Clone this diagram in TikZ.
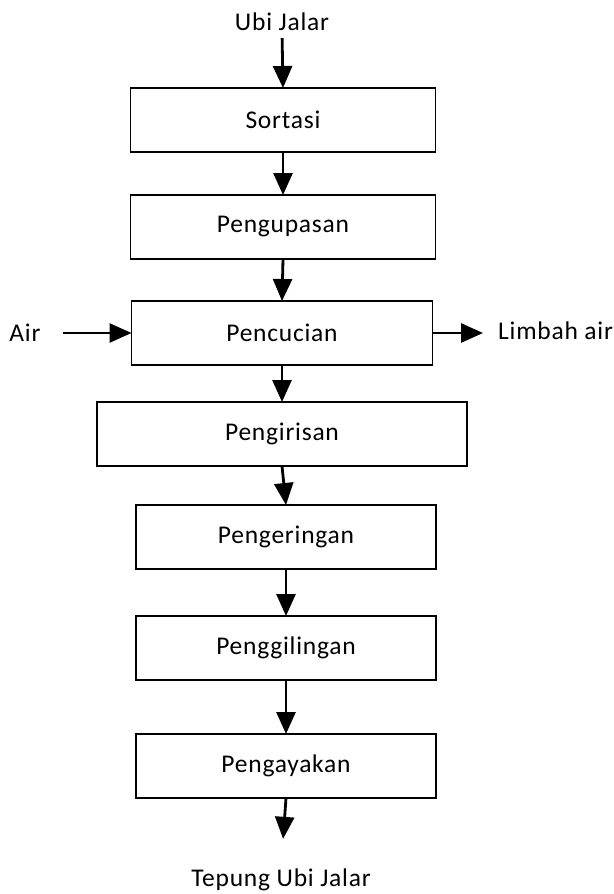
\documentclass[tikz,border=0pt]{standalone}
\usepackage{fontspec}
\setmainfont[LetterSpace=3]{Carlito}
\usepackage{tikz}
\usetikzlibrary{arrows.meta}
\usetikzlibrary{calc}

\begin{document}
\begin{tikzpicture}[x=1pt,y=-1pt]
\tikzstyle{proses}=[draw,line width=1.2pt,inner sep=0pt,outer sep=0pt,minimum width=300pt,minimum height=64pt,font=\fontsize{25.5}{30}\selectfont]
\tikzstyle{label}=[inner sep=0pt,font=\fontsize{25.5}{30}\selectfont]
\tikzstyle{flow}=[line width=2.8pt,-{Triangle[length=22pt,width=19pt]}]

\useasboundingbox (0,0) rectangle (613,894);

% INPUT
\node (ubi) [label] at (282,22) {Ubi Jalar};

% PROCESS BOXES
\node (sortasi) [proses,minimum width=305pt] at (283,120) {Sortasi};
\node (kupas) [proses,minimum width=305pt] at (283,227) {Pengupasan};
\node (cuci) [proses,minimum width=301pt] at (282,333) {Pencucian};
\node (iris) [proses,minimum width=370pt] at (282,434) {Pengirisan};
\node (kering) [proses] at (286,537) {Pengeringan};
\node (giling) [proses] at (286,648) {Penggilingan};
\node (ayak) [proses] at (286,766) {Pengayakan};

% SIDE STREAMS
\node (air) [label] at (25,333) {Air};
\node (limbah) [label,anchor=west] at (498,331) {Limbah air};

% OUTPUT
\node (tepung) [label] at (281,880) {Tepung Ubi Jalar};

% ARROWS
\draw [flow,shorten <=7pt] (ubi.south) -- (sortasi.north);
\draw [flow] (sortasi.south) -- (kupas.north);
\draw [flow] (kupas.south) -- (cuci.north);
\draw [flow] (cuci.south) -- (iris.north);
\draw [flow] (iris.south) -- (kering.north);
\draw [flow] (kering.south) -- (giling.north);
\draw [flow] (giling.south) -- (ayak.north);
\draw [flow,shorten >=30pt] (ayak.south) -- (tepung.north);
\draw [flow,shorten <=22pt] (air.east) -- (cuci.west);
\draw [flow,shorten >=15pt] (cuci.east) -- (limbah.west |- cuci.east);

\end{tikzpicture}
\end{document}
